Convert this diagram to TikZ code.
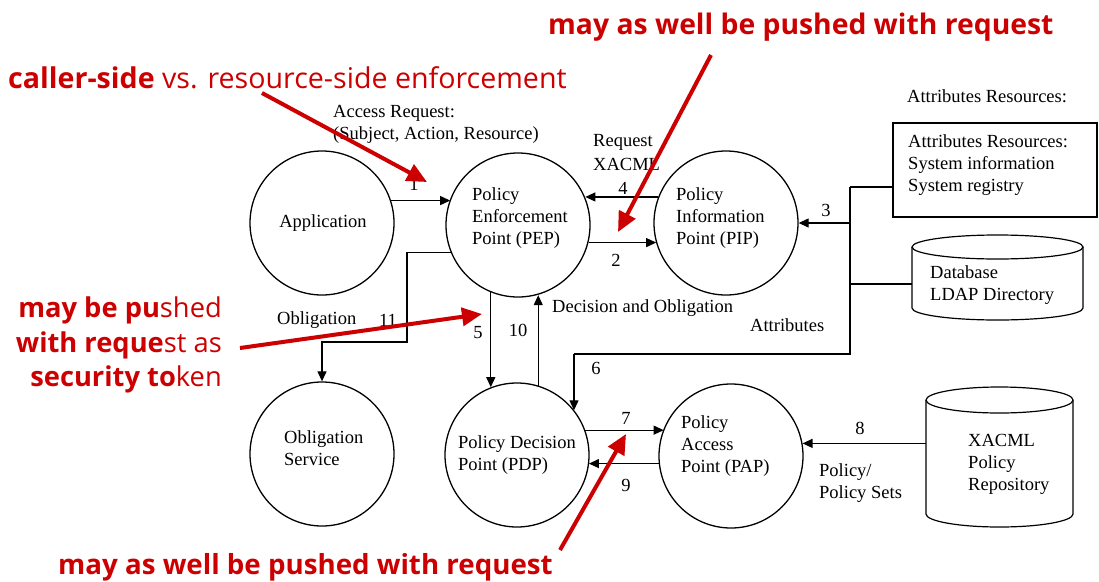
\documentclass[tikz,border=0pt]{standalone}
\usepackage{fontspec}
\setmainfont{Liberation Serif}
\newfontfamily\redf{Open Sans}
\usetikzlibrary{arrows.meta}
\definecolor{annot}{RGB}{204,0,0}
\tikzset{
  proc/.style={circle, draw, line width=1.3pt, minimum size=144pt, inner sep=0pt},
  lbl/.style={inner sep=0pt, font=\fontsize{18.5}{22}\selectfont},
  conn/.style={line width=1.2pt},
  arr/.style={conn, -{Triangle[length=10pt,width=9pt]}},
  redtxt/.style={inner sep=0pt, text=annot, font=\redf\fontsize{27.3}{33}\selectfont},
  redarr/.style={draw=annot, line width=4pt, -{Triangle[length=20pt,width=18pt]}},
}
\begin{document}
\begin{tikzpicture}[x=1pt,y=-1pt]
\useasboundingbox (0,0) rectangle (1099,581);
\fill[white] (0,0) rectangle (1099,581);

% process circles
\node[proc] (app) at (322,223) {};
\node[proc] (pep) at (518,225) {};
\node[proc] (pip) at (726,223) {};
\node[proc] (obl) at (322,454) {};
\node[proc] (pdp) at (517,455) {};
\node[proc] (pap) at (731,456) {};

\node[lbl] (apptext) at (323,223) {Application};
\node[lbl, align=left, anchor=west] (peptext) at (472,218) {Policy\\Enforcement\\Point (PEP)};
\node[lbl, align=left, anchor=west] (piptext) at (676,218) {Policy\\Information\\Point (PIP)};
\node[lbl, align=left, anchor=west] (obltext) at (284,448) {Obligation\\Service};
\node[lbl, align=left, anchor=west] (pdptext) at (458,455) {Policy Decision\\Point (PDP)};
\node[lbl, align=left, anchor=west] (paptext) at (681,446) {Policy\\Access\\Point (PAP)};

% attribute box
\node[draw, line width=1.2pt, minimum width=204pt, minimum height=94pt, inner sep=0pt] (box) at (995,170) {};
\node[lbl, align=left, anchor=west] (boxtext) at (908,165) {Attributes Resources:\\System information\\System registry};
\node[lbl, anchor=west] (boxhead) at (907,96) {Attributes Resources:};

% database cylinder
\node[minimum width=171pt, minimum height=85pt, inner sep=0pt] (db) at (997.5,277.5) {};
\draw[conn] (997.5,247) ellipse [x radius=85.5pt, y radius=12pt];
\draw[conn] (912,247) -- (912,308) arc[start angle=180, end angle=360, x radius=85.5pt, y radius=12pt] -- (1083,247);
\node[lbl, align=left, anchor=west] (dbtext) at (930,285) {Database\\LDAP Directory};

% repository cylinder
\node[minimum width=147pt, minimum height=140pt, inner sep=0pt] (repo) at (999.5,457) {};
\draw[conn] (999.5,400) ellipse [x radius=73.5pt, y radius=13pt];
\draw[conn] (926,400) -- (926,514) arc[start angle=180, end angle=360, x radius=73.5pt, y radius=13pt] -- (1073,400);
\node[lbl, align=left, anchor=west] (repotext) at (968,464) {XACML\\Policy\\Repository};

% connectors
\draw[arr] (app.18.6) -- (app.18.6 -| pep.159.7);
\draw[arr] (pip.159.7) -- (pip.159.7 -| pep.22);
\draw[arr] (pep.-14.5) -- (pep.-14.5 -| pip.196.1);

\coordinate (t1) at (850,187);
\coordinate (t3) at (850,223);
\coordinate (t4) at (850,284);
\coordinate (t6) at (850,354);
\coordinate (c6) at (574,354);
\draw[conn] (t1) -- (t1 -| box.west);
\draw[conn] (t1) -- (t6) -- (c6);
\draw[arr] (c6) -- (c6 |- pdp.38);
\draw[arr] (t3) -- (pip.east);
\draw[conn] (t4) -- (t4 -| db.west);

\coordinate (k1) at (407,342);
\draw[arr] (pep.202) -| (k1) -| (obl.north);

\draw[arr] (pep.248) -- (pep.248 |- pdp.111.2);
\draw[arr] (pdp.73) -- (pdp.73 |- pep.285);
\draw[arr] (pdp.20.3) -- (pdp.20.3 -| pap.158.8);
\draw[arr] (pap.186.4) -- (pap.186.4 -| pdp.352.8);
\draw[arr] (repo.west |- pap.10.4) -- (pap.10.4);

% labels
\node[lbl, anchor=west] (acc1) at (333,113) {Access Request:};
\node[lbl, anchor=west] (acc2) at (333,135) {(Subject, Action, Resource)};
\node[lbl] (n1) at (414,184) {1};
\node[lbl, anchor=west] (req1) at (593,142) {Request};
\node[lbl, anchor=west] (req2) at (593,164) {XACML};
\node[lbl] (n4) at (623,188) {4};
\node[lbl] (n2) at (616,260) {2};
\node[lbl] (n3) at (826,210) {3};
\node[lbl, anchor=west] (attrl) at (750,325) {Attributes};
\node[lbl, anchor=west] (decl) at (552,308) {Decision and Obligation};
\node[lbl, anchor=west] (obll) at (277,320) {Obligation};
\node[lbl] (n11) at (388,320) {11};
\node[lbl] (n5) at (478,333) {5};
\node[lbl] (n10) at (518,330) {10};
\node[lbl] (n6) at (596,368) {6};
\node[lbl] (n7) at (626,418) {7};
\node[lbl] (n9) at (626,485) {9};
\node[lbl] (n8) at (860,428) {8};
\node[lbl, align=left, anchor=west] (polsets) at (819,483) {Policy/\\Policy Sets};

% red annotations
\node[redtxt, anchor=base west, font=\redf\fontsize{28.6}{33}\selectfont] (rt1) at (8,88) {{\bfseries caller-side} vs. resource-side enforcement};
\node[redtxt, anchor=base west, font=\redf\bfseries\fontsize{28.3}{33}\selectfont] (rt2) at (548,34) {may as well be pushed with request};
\node[redtxt, anchor=base east] (rt3a) at (222,317) {{\bfseries may be pu}shed};
\node[redtxt, anchor=base east] (rt3b) at (222,352) {{\bfseries with reque}st as};
\node[redtxt, anchor=base east] (rt3c) at (222,386) {{\bfseries security to}ken};
\node[redtxt, anchor=base west, font=\redf\bfseries\fontsize{27.7}{33}\selectfont] (rt4) at (58,574) {may as well be pushed with request};

\coordinate (ra1) at (262,93);  \coordinate (ra2) at (427,182);
\coordinate (rb1) at (711,55);  \coordinate (rb2) at (618,232);
\coordinate (rc1) at (240,348); \coordinate (rc2) at (482,314);
\coordinate (rd1) at (560,550); \coordinate (rd2) at (626,434);
\draw[redarr] (ra1) -- (ra2);
\draw[redarr] (rb1) -- (rb2);
\draw[redarr] (rc1) -- (rc2);
\draw[redarr] (rd1) -- (rd2);
\end{tikzpicture}
\end{document}
